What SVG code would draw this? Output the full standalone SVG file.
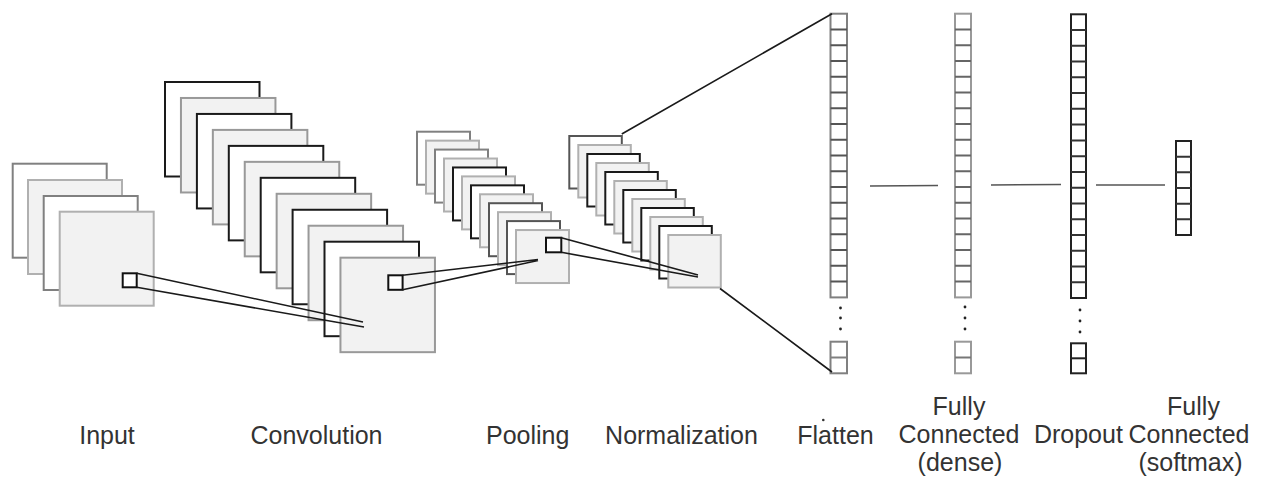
<svg xmlns="http://www.w3.org/2000/svg" width="1267" height="480" viewBox="0 0 1267 480">
<style>
.dk{fill:#fff;stroke:#808080;stroke-width:2}
.lt{fill:#f2f2f2;stroke:#b0b0b0;stroke-width:2}
.bk{fill:#fff;stroke:#1a1a1a;stroke-width:2}
.gy{fill:#f2f2f2;stroke:#999;stroke-width:2}
.pd{fill:#fff;stroke:#555;stroke-width:2}
.sm{fill:#fff;stroke:#111;stroke-width:2}
.col{fill:#fff;stroke-width:2}
.ln{stroke:#1a1a1a;stroke-width:1.6;fill:none}
.hl{stroke:#555;stroke-width:1.6;fill:none}
.dot{fill:#222}
text{font-family:"Liberation Sans",Arial,sans-serif;font-size:25px;fill:#333;text-anchor:middle}
</style>
<g id="input">
<rect class="dk" x="12.7" y="163.7" width="94" height="94"/>
<rect class="lt" x="28" y="180" width="94" height="94"/>
<rect class="dk" x="43.7" y="196" width="94" height="94"/>
<rect class="lt" x="59.7" y="211.7" width="94" height="94"/>
<rect class="sm" x="122.7" y="273.3" width="14" height="14"/>
</g>
<g id="convolution">
<rect class="bk" x="165" y="82" width="94.5" height="94.5"/>
<rect class="gy" x="180.95" y="97.97" width="94.5" height="94.5"/>
<rect class="bk" x="196.9" y="113.94" width="94.5" height="94.5"/>
<rect class="gy" x="212.85" y="129.91" width="94.5" height="94.5"/>
<rect class="bk" x="228.8" y="145.88" width="94.5" height="94.5"/>
<rect class="gy" x="244.75" y="161.85" width="94.5" height="94.5"/>
<rect class="bk" x="260.7" y="177.82" width="94.5" height="94.5"/>
<rect class="gy" x="276.65" y="193.79" width="94.5" height="94.5"/>
<rect class="bk" x="292.6" y="209.76" width="94.5" height="94.5"/>
<rect class="gy" x="308.55" y="225.73" width="94.5" height="94.5"/>
<rect class="bk" x="324.5" y="241.7" width="94.5" height="94.5"/>
<rect class="gy" x="340.45" y="257.67" width="94.5" height="94.5"/>
<rect class="sm" x="388.3" y="275.3" width="14.3" height="14.5"/>
</g>
<g id="pooling">
<rect class="dk" x="417" y="131.7" width="53" height="53"/>
<rect class="lt" x="426" y="140.64" width="53" height="53"/>
<rect class="dk" x="435" y="149.58" width="53" height="53"/>
<rect class="lt" x="444" y="158.52" width="53" height="53"/>
<rect class="bk" x="453" y="167.46" width="53" height="53"/>
<rect class="lt" x="462" y="176.4" width="53" height="53"/>
<rect class="bk" x="471" y="185.34" width="53" height="53"/>
<rect class="lt" x="480" y="194.28" width="53" height="53"/>
<rect class="pd" x="489" y="203.22" width="53" height="53"/>
<rect class="lt" x="498" y="212.16" width="53" height="53"/>
<rect class="pd" x="507" y="221.1" width="53" height="53"/>
<rect class="lt" x="516" y="230.04" width="53" height="53"/>
<rect class="sm" x="546" y="237.7" width="15.3" height="14.6"/>
</g>
<g id="normalization">
<rect class="pd" x="569.3" y="136" width="52.5" height="52.5"/>
<rect class="lt" x="578.3" y="145" width="52.5" height="52.5"/>
<rect class="bk" x="587.3" y="154" width="52.5" height="52.5"/>
<rect class="lt" x="596.3" y="163" width="52.5" height="52.5"/>
<rect class="bk" x="605.3" y="172" width="52.5" height="52.5"/>
<rect class="lt" x="614.3" y="181" width="52.5" height="52.5"/>
<rect class="bk" x="623.3" y="190" width="52.5" height="52.5"/>
<rect class="lt" x="632.3" y="199" width="52.5" height="52.5"/>
<rect class="bk" x="641.3" y="208" width="52.5" height="52.5"/>
<rect class="lt" x="650.3" y="217" width="52.5" height="52.5"/>
<rect class="bk" x="659.3" y="226" width="52.5" height="52.5"/>
<rect class="lt" x="668.3" y="235" width="52.5" height="52.5"/>
</g>
<g id="flatten">
<rect class="col" stroke="#808080" x="830.5" y="13.7" width="16.5" height="283.7"/>
<path fill="none" stroke="#555" stroke-width="2" d="M830.5 29.46h16.5M830.5 45.22h16.5M830.5 60.98h16.5M830.5 76.74h16.5M830.5 92.5h16.5M830.5 108.26h16.5M830.5 124.02h16.5M830.5 139.78h16.5M830.5 155.54h16.5M830.5 171.3h16.5M830.5 187.06h16.5M830.5 202.82h16.5M830.5 218.58h16.5M830.5 234.34h16.5M830.5 250.1h16.5M830.5 265.86h16.5M830.5 281.62h16.5"/>
<rect class="col" stroke="#808080" x="830.5" y="341.7" width="16.5" height="31.6"/>
<path fill="none" stroke="#808080" stroke-width="2" d="M830.5 357.5h16.5"/>
<circle class="dot" cx="840.5" cy="308" r="1.4"/>
<circle class="dot" cx="840.5" cy="318" r="1.4"/>
<circle class="dot" cx="840.5" cy="329" r="1.4"/>
</g>
<g id="fc-dense">
<rect class="col" stroke="#999" x="955" y="13.7" width="16" height="283.7"/>
<path fill="none" stroke="#666" stroke-width="2" d="M955 29.46h16M955 45.22h16M955 60.98h16M955 76.74h16M955 92.5h16M955 108.26h16M955 124.02h16M955 139.78h16M955 155.54h16M955 171.3h16M955 187.06h16M955 202.82h16M955 218.58h16M955 234.34h16M955 250.1h16M955 265.86h16M955 281.62h16"/>
<rect class="col" stroke="#999" x="955" y="341.7" width="16" height="31.6"/>
<path fill="none" stroke="#777" stroke-width="2" d="M955 357.5h16"/>
<circle class="dot" cx="965" cy="307" r="1.4"/>
<circle class="dot" cx="965" cy="318" r="1.4"/>
<circle class="dot" cx="965" cy="329" r="1.4"/>
</g>
<g id="dropout">
<rect class="col" stroke="#222" x="1071" y="14.3" width="15" height="283.7"/>
<path fill="none" stroke="#333" stroke-width="2" d="M1071 30.06h15M1071 45.82h15M1071 61.58h15M1071 77.34h15M1071 93.1h15M1071 108.86h15M1071 124.62h15M1071 140.38h15M1071 156.14h15M1071 171.9h15M1071 187.66h15M1071 203.42h15M1071 219.18h15M1071 234.94h15M1071 250.7h15M1071 266.46h15M1071 282.22h15"/>
<rect class="col" stroke="#222" x="1071" y="343.3" width="15" height="30"/>
<path fill="none" stroke="#222" stroke-width="2" d="M1071 358.3h15"/>
<circle class="dot" cx="1080" cy="310" r="1.4"/>
<circle class="dot" cx="1080" cy="321" r="1.4"/>
<circle class="dot" cx="1080" cy="332" r="1.4"/>
</g>
<g id="fc-softmax">
<rect class="col" stroke="#222" x="1176" y="141" width="15" height="94"/>
<path fill="none" stroke="#333" stroke-width="2" d="M1176 156.67h15M1176 172.33h15M1176 188h15M1176 203.67h15M1176 219.33h15"/>
</g>
<g id="connectors">
<path class="ln" d="M136.7 273.3L363 322M136.7 287.3L364 327"/>
<path class="ln" d="M402.6 275.3L538 259.5M402.6 289.8L538 260.5"/>
<path class="ln" d="M561.3 237.7L698 275M561.3 252.3L698 277"/>
<path class="ln" d="M621.8 134L832 13.7M720 288.5L832 372"/>
<path class="hl" d="M870 186L938 185.5M991 185L1061 184.5M1096 185L1165 185"/>
</g>
<g id="labels">
<text x="107" y="444">Input</text>
<text x="316.5" y="444">Convolution</text>
<text x="527.7" y="444">Pooling</text>
<text x="681.5" y="444">Normalization</text>
<text x="835.5" y="444">Flatten</text>
<circle cx="823.3" cy="420" r="1.3" fill="#333"/>
<text x="959" y="415">Fully</text>
<text x="959" y="443">Connected</text>
<text x="960" y="471">(dense)</text>
<text x="1078.4" y="443">Dropout</text>
<text x="1193.5" y="415">Fully</text>
<text x="1189" y="443">Connected</text>
<text x="1190.5" y="471">(softmax)</text>
</g>
</svg>
